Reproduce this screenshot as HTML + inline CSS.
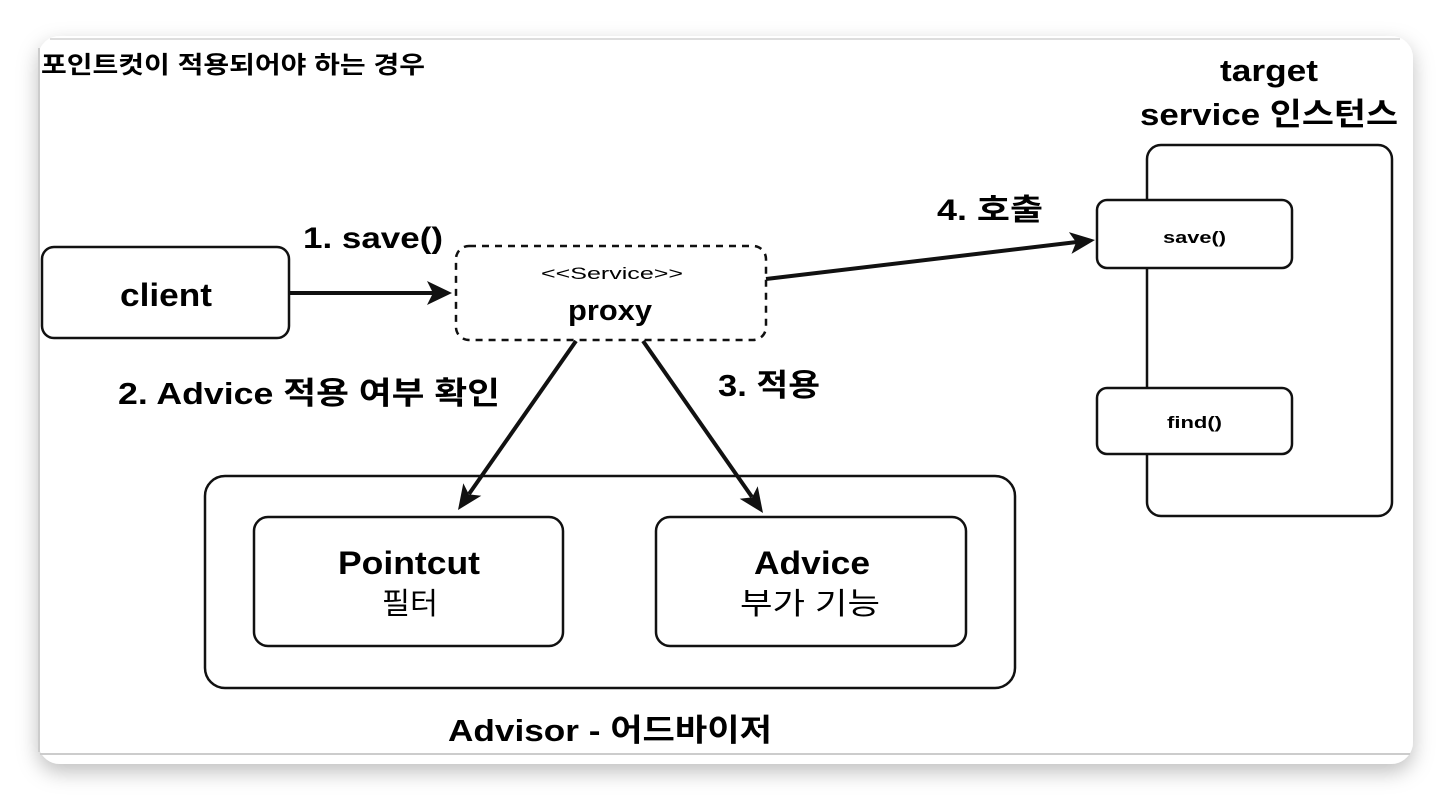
<!DOCTYPE html>
<html><head><meta charset="utf-8"><style>
html,body{margin:0;padding:0;background:#fff;}
svg{display:block}
text{font-family:"Liberation Sans","Noto Sans CJK KR",sans-serif;fill:#000}
</style></head><body>
<svg width="1450" height="800" viewBox="0 0 1450 800" xmlns="http://www.w3.org/2000/svg">
<defs>
<filter id="sh" x="-10%" y="-10%" width="120%" height="130%"><feDropShadow dx="0" dy="8" stdDeviation="10" flood-color="#000" flood-opacity="0.25"/></filter>
</defs>
<rect x="0" y="0" width="1450" height="800" fill="#fff"/>
<rect x="38" y="36" width="1375" height="728" rx="22" fill="#fff" filter="url(#sh)"/>
<line x1="40" y1="754" x2="1410" y2="754" stroke="#ccc" stroke-width="2"/>
<line x1="39" y1="48" x2="39" y2="752" stroke="#ccc" stroke-width="2"/>
<line x1="50" y1="39" x2="1400" y2="39" stroke="#ddd" stroke-width="2"/>
<text x="41" y="73" font-size="24" font-weight="bold" textLength="384" lengthAdjust="spacingAndGlyphs">포인트컷이 적용되어야 하는 경우</text>

<g fill="none" stroke="#111" stroke-width="2.5">
<rect x="42" y="247" width="247" height="91" rx="12"/>
<rect x="456" y="246" width="310" height="94" rx="13" stroke-dasharray="7,6"/>
<rect x="1147" y="145" width="245" height="371" rx="14"/>
<rect x="1097" y="200" width="195" height="68" rx="10" fill="#fff"/>
<rect x="1097" y="388" width="195" height="66" rx="10" fill="#fff"/>
<rect x="205" y="476" width="810" height="212" rx="20"/>
<rect x="254" y="517" width="309" height="129" rx="14"/>
<rect x="656" y="517" width="310" height="129" rx="14"/>
</g>
<g stroke="#111" stroke-width="4" fill="none">
<line x1="290" y1="293" x2="434" y2="293"/>
<line x1="766" y1="279" x2="1077" y2="242"/>
<line x1="576" y1="341" x2="469" y2="494"/>
<line x1="643" y1="341" x2="752" y2="497"/>
</g>
<g fill="#111">
<polygon points="452,293 427,281 433,293 427,305"/>
<polygon points="1095,240 1071.5,253.9 1076.1,242.3 1068.9,232.1"/>
<polygon points="458,510 481.3,495.8 468.9,494.4 463.3,483.2"/>
<polygon points="763,513 757.7,486.2 752.1,497.4 739.7,498.8"/>
</g>

<text x="120" y="306" font-size="32" font-weight="bold" textLength="92" lengthAdjust="spacingAndGlyphs">client</text>
<text x="541" y="279" font-size="17" textLength="142" lengthAdjust="spacingAndGlyphs">&lt;&lt;Service&gt;&gt;</text>
<text x="568" y="320" font-size="29" font-weight="bold" textLength="84" lengthAdjust="spacingAndGlyphs">proxy</text>
<text x="303" y="248" font-size="30" font-weight="bold" textLength="140" lengthAdjust="spacingAndGlyphs">1. save()</text>
<text x="937" y="220" font-size="30" font-weight="bold" textLength="106" lengthAdjust="spacingAndGlyphs">4. 호출</text>
<text x="1220" y="81" font-size="31" font-weight="bold" textLength="98" lengthAdjust="spacingAndGlyphs">target</text>
<text x="1140" y="125" font-size="31" font-weight="bold" textLength="258" lengthAdjust="spacingAndGlyphs">service 인스턴스</text>
<text x="1163" y="243" font-size="17" font-weight="bold" textLength="63" lengthAdjust="spacingAndGlyphs">save()</text>
<text x="1167" y="428" font-size="17" font-weight="bold" textLength="55" lengthAdjust="spacingAndGlyphs">find()</text>
<text x="118" y="404" font-size="31" font-weight="bold" textLength="382" lengthAdjust="spacingAndGlyphs">2. Advice 적용 여부 확인</text>
<text x="718" y="396" font-size="31" font-weight="bold" textLength="102" lengthAdjust="spacingAndGlyphs">3. 적용</text>
<text x="338" y="574" font-size="32" font-weight="bold" textLength="142" lengthAdjust="spacingAndGlyphs">Pointcut</text>
<text x="382" y="614" font-size="30" textLength="56" lengthAdjust="spacingAndGlyphs">필터</text>
<text x="754" y="574" font-size="32" font-weight="bold" textLength="116" lengthAdjust="spacingAndGlyphs">Advice</text>
<text x="740" y="614" font-size="30" textLength="140" lengthAdjust="spacingAndGlyphs">부가 기능</text>
<text x="448" y="741" font-size="31" font-weight="bold" textLength="324" lengthAdjust="spacingAndGlyphs">Advisor - 어드바이저</text>
</svg>
</body></html>
